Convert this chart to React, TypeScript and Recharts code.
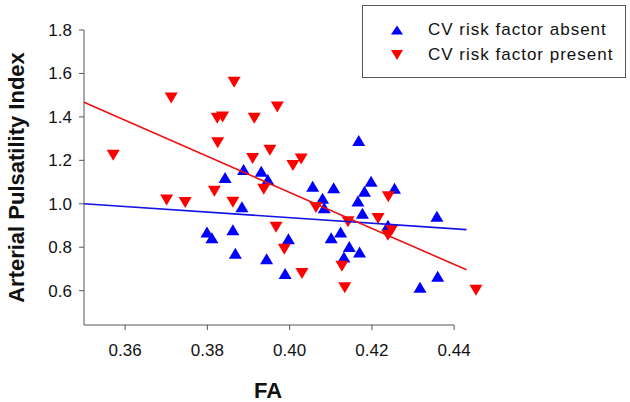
import React from "react";
import { ScatterChart, Scatter, XAxis, YAxis, Legend, ReferenceLine, Label } from "recharts";

const FONT = '"Liberation Sans", Arial, Helvetica, sans-serif';
const BLUE = "#0000ff";
const RED = "#ff0000";
const AXIS = "#555555";

// CV risk factor absent (blue, up triangles)
const absentFA = [
  0.3799, 0.3811, 0.3843, 0.3862, 0.3868, 0.3884, 0.3888, 0.3931, 0.3947, 0.3944, 0.3989,
  0.3997, 0.4056, 0.408, 0.4084, 0.4101, 0.4107, 0.4124, 0.4132, 0.4145, 0.4166, 0.4168,
  0.417, 0.4177, 0.4182, 0.4198, 0.4239, 0.4255, 0.4358, 0.436, 0.4317,
];
const absentPI = [
  0.87, 0.844, 1.121, 0.881, 0.772, 0.986, 1.158, 1.15, 1.112, 0.747, 0.679,
  0.839, 1.081, 1.026, 0.982, 0.844, 1.074, 0.87, 0.755, 0.803, 1.013, 1.291,
  0.778, 0.957, 1.058, 1.104, 0.901, 1.071, 0.943, 0.666, 0.616,
];

// CV risk factor present (red, down triangles)
const presentFA = [
  0.3571, 0.3712, 0.3865, 0.397, 0.3824, 0.3837, 0.3914, 0.3825, 0.3952, 0.391, 0.4008,
  0.4028, 0.3817, 0.3937, 0.3862, 0.3701, 0.3746, 0.4064, 0.3967, 0.3987, 0.403, 0.4142,
  0.4215, 0.424, 0.4248, 0.4239, 0.4127, 0.4134, 0.4453,
];
const presentPI = [
  1.224, 1.487, 1.56, 1.445, 1.394, 1.399, 1.394, 1.281, 1.247, 1.209, 1.176,
  1.206, 1.058, 1.067, 1.007, 1.017, 1.006, 0.983, 0.892, 0.791, 0.679, 0.917,
  0.932, 1.032, 0.878, 0.855, 0.712, 0.614, 0.602,
];

// regression lines
const fitFA = [0.35, 0.443];
const absentFitPI = [1.0, 0.881];
const presentFitPI = [1.467, 0.696];

const xTicks = [0.36, 0.38, 0.4, 0.42, 0.44];
const yTicks = [0.6, 0.8, 1.0, 1.2, 1.4, 1.6, 1.8];
const X_MIN = 0.35;
const X_AXIS_END = 0.44;
const X_MAX = 0.4475;
const Y_MIN = 0.442;
const Y_MAX = 1.8;

const zip = (xs: number[], ys: number[]) => xs.map((x, i) => ({ x, y: ys[i] }));

const absentData = zip(absentFA, absentPI);
const presentData = zip(presentFA, presentPI);
const absentFit = zip(fitFA, absentFitPI);
const presentFit = zip(fitFA, presentFitPI);

function upPoints(cx: number, cy: number, w: number, h: number) {
  return `${cx},${cy - h / 2} ${cx + w / 2},${cy + h / 2} ${cx - w / 2},${cy + h / 2}`;
}
function downPoints(cx: number, cy: number, w: number, h: number) {
  return `${cx - w / 2},${cy - h / 2} ${cx + w / 2},${cy - h / 2} ${cx},${cy + h / 2}`;
}

const UpTriangle = (props: any) => (
  <polygon points={upPoints(props.cx, props.cy, 13, 11)} fill={BLUE} />
);
const DownTriangle = (props: any) => (
  <polygon points={downPoints(props.cx, props.cy, 13, 11)} fill={RED} />
);
const NoDot = () => <g />;

const legendText = {
  fontFamily: FONT,
  fontSize: 17,
  letterSpacing: 1,
  fill: "#111",
};

const renderLegend = () => (
  <svg width={264} height={73} style={{ display: "block" }}>
    <rect x={0.5} y={0.5} width={263} height={72} fill="#fff" stroke={AXIS} />
    <polygon points={upPoints(35, 25, 12, 9)} fill={BLUE} />
    <text x={66} y={30} style={legendText}>
      CV risk factor absent
    </text>
    <polygon points={downPoints(35, 50, 12, 10)} fill={RED} />
    <text x={66} y={55} style={legendText}>
      CV risk factor present
    </text>
  </svg>
);

const tickStyle = { fill: "#111", fontSize: 17, fontFamily: FONT };

export default function App() {
  return (
    <div style={{ position: "absolute", left: 0, top: 0, width: 630, height: 402, background: "#fff" }}>
      <ScatterChart width={630} height={402} margin={{ top: 30, right: 145, bottom: 0, left: 0 }}>
        <XAxis
          type="number"
          dataKey="x"
          domain={[X_MIN, X_MAX]}
          ticks={xTicks}
          tickFormatter={(v: number) => v.toFixed(2)}
          axisLine={false}
          tickLine={{ stroke: AXIS }}
          tickSize={5}
          tickMargin={14}
          tick={tickStyle}
          height={77}
        >
          <Label
            value="FA"
            position="insideBottom"
            offset={4}
            dx={-16.5}
            style={{ fontFamily: FONT, fontSize: 22, fontWeight: "bold", fill: "#111" }}
          />
        </XAxis>
        <YAxis
          type="number"
          dataKey="y"
          domain={[Y_MIN, Y_MAX]}
          ticks={yTicks}
          tickFormatter={(v: number) => v.toFixed(1)}
          axisLine={{ stroke: AXIS }}
          tickLine={{ stroke: AXIS }}
          tickSize={5}
          tickMargin={7}
          tick={tickStyle}
          width={84}
        >
          <Label
            value="Arterial Pulsatility Index"
            angle={-90}
            position="insideLeft"
            offset={16}
            style={{ fontFamily: FONT, fontSize: 22, fontWeight: "bold", fill: "#111", textAnchor: "middle" }}
          />
        </YAxis>
        <ReferenceLine
          segment={[
            { x: X_MIN, y: Y_MIN },
            { x: X_AXIS_END, y: Y_MIN },
          ]}
          stroke={AXIS}
          strokeWidth={1}
        />
        <Scatter data={absentData} shape={UpTriangle} isAnimationActive={false} />
        <Scatter data={presentData} shape={DownTriangle} isAnimationActive={false} />
        <Scatter
          data={absentFit}
          shape={NoDot}
          line={{ stroke: "#1414e6", strokeWidth: 1.6 }}
          lineType="joint"
          isAnimationActive={false}
        />
        <Scatter
          data={presentFit}
          shape={NoDot}
          line={{ stroke: "#ee1111", strokeWidth: 1.6 }}
          lineType="joint"
          isAnimationActive={false}
        />
        <Legend
          layout="horizontal"
          verticalAlign="middle"
          align="center"
          content={renderLegend}
          wrapperStyle={{ left: 362, top: 5, width: 264, height: 73 }}
        />
      </ScatterChart>
    </div>
  );
}
